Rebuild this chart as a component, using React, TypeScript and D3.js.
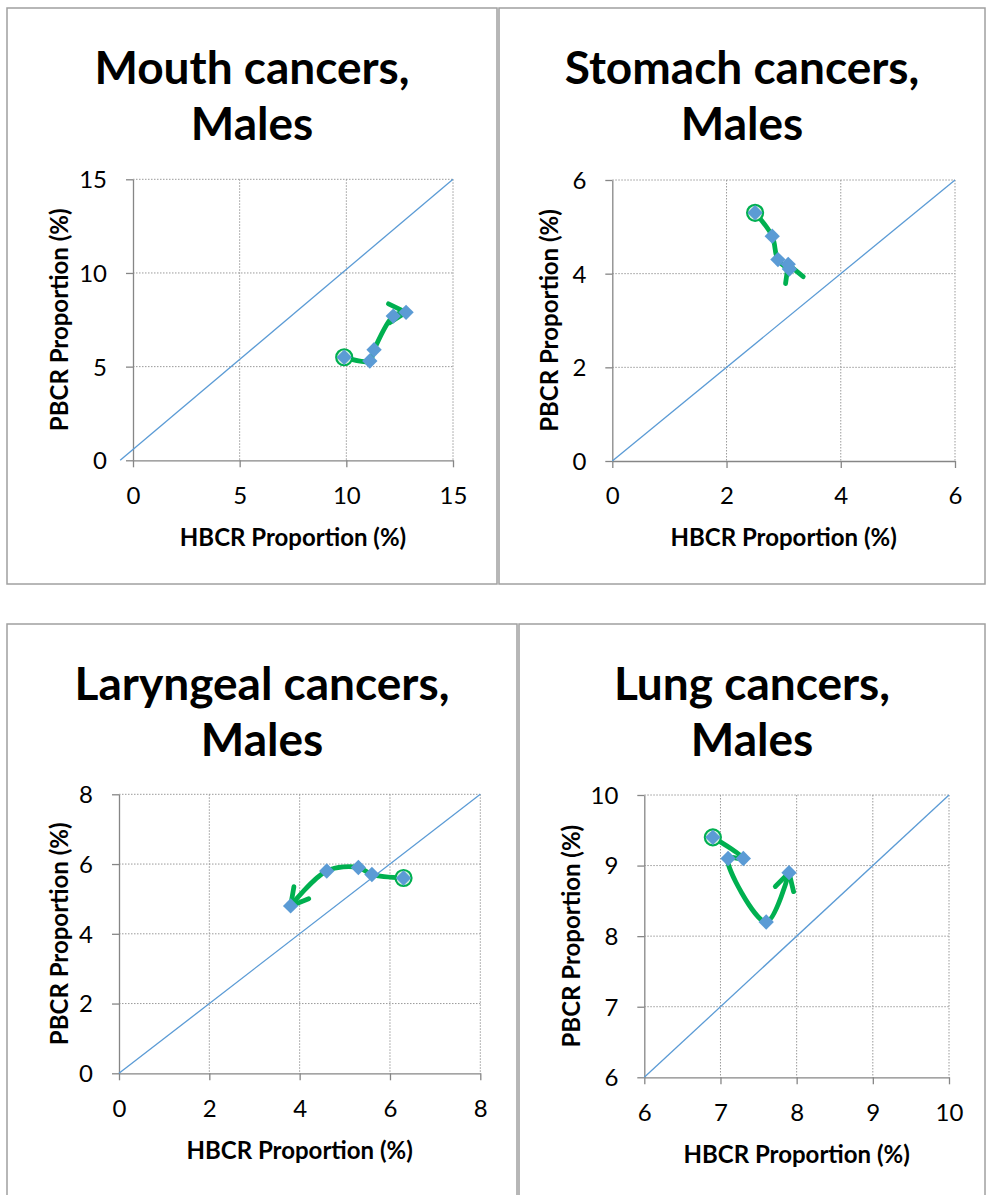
import React, { useEffect, useRef } from 'react';
import * as d3 from 'd3';

// Mouth cancers, Males
const mouthHbcr = [9.9, 11.1, 11.3, 12.2, 12.8];
const mouthPbcr = [5.5, 5.3, 5.9, 7.7, 7.9];
const mouthTicks = [0, 5, 10, 15];
const mouthDiagonal = [[-0.6, 0], [15, 15]];

// Stomach cancers, Males
const stomachHbcr = [2.5, 2.8, 2.9, 3.1, 3.08];
const stomachPbcr = [5.3, 4.8, 4.3, 4.1, 4.2];
const stomachTicks = [0, 2, 4, 6];
const stomachDiagonal = [[0, 0], [6, 6]];

// Laryngeal cancers, Males
const larynxHbcr = [6.3, 5.6, 5.3, 4.6, 3.8];
const larynxPbcr = [5.6, 5.7, 5.9, 5.8, 4.8];
const larynxTicks = [0, 2, 4, 6, 8];
const larynxDiagonal = [[0, 0], [8, 8]];

// Lung cancers, Males
const lungHbcr = [6.9, 7.3, 7.1, 7.6, 7.9];
const lungPbcr = [9.4, 9.1, 9.1, 8.2, 8.9];
const lungTicks = [6, 7, 8, 9, 10];
const lungDiagonal = [[6, 6], [10, 10]];

const xLabel = 'HBCR Proportion (%)';
const yLabel = 'PBCR Proportion (%)';

const panels = [
  { title: ['Mouth cancers,', 'Males'], hbcr: mouthHbcr, pbcr: mouthPbcr, ticks: mouthTicks, diagonal: mouthDiagonal,
    box: [7, 8, 490, 576], plot: [133, 453, 179.3, 460.3], titleY: 66, yTitleX: 60 },
  { title: ['Stomach cancers,', 'Males'], hbcr: stomachHbcr, pbcr: stomachPbcr, ticks: stomachTicks, diagonal: stomachDiagonal,
    box: [499, 8, 486, 576], plot: [612.3, 955, 180, 461], titleY: 66, yTitleX: 550 },
  { title: ['Laryngeal cancers,', 'Males'], hbcr: larynxHbcr, pbcr: larynxPbcr, ticks: larynxTicks, diagonal: larynxDiagonal,
    box: [7, 624, 510, 600], plot: [119, 480.3, 794.3, 1073.3], titleY: 682, yTitleX: 60 },
  { title: ['Lung cancers,', 'Males'], hbcr: lungHbcr, pbcr: lungPbcr, ticks: lungTicks, diagonal: lungDiagonal,
    box: [519, 624, 466, 600], plot: [644.3, 949, 795, 1077.3], titleY: 682, yTitleX: 572 },
];

const FONT = 'Lato, "Open Sans", sans-serif';
const GREEN = '#00B050';
const BLUE = '#5B9BD5';

const App = () => {
  const ref = useRef<SVGSVGElement>(null);

  useEffect(() => {
    const svg = d3.select(ref.current);
    svg.selectAll('*').remove();

    // flecha abierta al final de la serie
    svg
      .append('defs')
      .append('marker')
      .attr('id', 'arrow')
      .attr('markerUnits', 'userSpaceOnUse')
      .attr('viewBox', '-26 -16 32 32')
      .attr('markerWidth', 32)
      .attr('markerHeight', 32)
      .attr('refX', 0)
      .attr('refY', 0)
      .attr('orient', 'auto')
      .append('path')
      .attr('d', 'M-17,-9.5L0,0L-17,9.5')
      .attr('fill', 'none')
      .attr('stroke', GREEN)
      .attr('stroke-width', 4.8)
      .attr('stroke-linecap', 'round')
      .attr('stroke-linejoin', 'round');

    panels.forEach(p => {
      const [bx, by, bw, bh] = p.box;
      const [left, right, top, bottom] = p.plot;
      const lo = p.ticks[0];
      const hi = p.ticks[p.ticks.length - 1];
      const x = d3.scaleLinear().domain([lo, hi]).range([left, right]);
      const y = d3.scaleLinear().domain([lo, hi]).range([bottom, top]);
      const g = svg.append('g').style('font-family', FONT);

      // marco
      g.append('rect')
        .attr('x', bx)
        .attr('y', by)
        .attr('width', bw)
        .attr('height', bh)
        .attr('fill', 'none')
        .attr('stroke', '#a0a0a0')
        .attr('stroke-width', 1.5);

      // título
      g.append('text')
        .attr('x', bx + bw / 2)
        .attr('text-anchor', 'middle')
        .style('font-size', '46px')
        .style('font-weight', 'bold')
        .selectAll('tspan')
        .data(p.title)
        .enter()
        .append('tspan')
        .attr('x', bx + bw / 2)
        .attr('y', (d, i) => p.titleY + i * 56)
        .attr('dominant-baseline', 'central')
        .text(d => d);

      // rejilla
      g.selectAll('.vgrid')
        .data(p.ticks.slice(1))
        .enter()
        .append('line')
        .attr('x1', d => x(d))
        .attr('x2', d => x(d))
        .attr('y1', top)
        .attr('y2', bottom)
        .attr('stroke', '#9a9a9a')
        .attr('stroke-dasharray', '1.5,1.5');
      g.selectAll('.hgrid')
        .data(p.ticks.slice(1))
        .enter()
        .append('line')
        .attr('x1', left)
        .attr('x2', right)
        .attr('y1', d => y(d))
        .attr('y2', d => y(d))
        .attr('stroke', '#9a9a9a')
        .attr('stroke-dasharray', '1.5,1.5');

      // ejes
      const xAxis = g.append('g')
        .attr('transform', `translate(0,${bottom})`)
        .call(d3.axisBottom(x).tickValues(p.ticks).tickSize(7).tickSizeOuter(0).tickFormat(d3.format('d')));
      const yAxis = g.append('g')
        .attr('transform', `translate(${left},0)`)
        .call(d3.axisLeft(y).tickValues(p.ticks).tickSize(7).tickSizeOuter(0).tickFormat(d3.format('d')));
      [xAxis, yAxis].forEach(a => {
        a.select('.domain').attr('stroke', '#868686').attr('stroke-width', 1.3);
        a.selectAll('.tick line').attr('stroke', '#868686').attr('stroke-width', 1.3);
        a.selectAll('.tick text')
          .style('font-family', FONT)
          .style('font-size', '24px')
          .attr('fill', '#000');
      });
      xAxis.selectAll('.tick text').attr('y', 35).attr('dy', '0.35em');
      yAxis.selectAll('.tick text').attr('x', -26).attr('dy', '0.35em');

      // títulos de ejes
      g.append('text')
        .attr('x', (left + right) / 2)
        .attr('y', bottom + 77)
        .attr('dy', '0.35em')
        .attr('text-anchor', 'middle')
        .style('font-size', '24px')
        .style('font-weight', 'bold')
        .text(xLabel);
      g.append('text')
        .attr('transform', `translate(${p.yTitleX},${(top + bottom) / 2}) rotate(-90)`)
        .attr('dy', '0.35em')
        .attr('text-anchor', 'middle')
        .style('font-size', '24px')
        .style('font-weight', 'bold')
        .text(yLabel);

      // diagonal
      g.append('path')
        .datum(p.diagonal)
        .attr('d', d3.line().x(d => x(d[0])).y(d => y(d[1])))
        .attr('fill', 'none')
        .attr('stroke', BLUE)
        .attr('stroke-width', 1.3);

      const pts = p.hbcr.map((v, i) => [v, p.pbcr[i]]);

      // trayectoria suavizada
      g.append('path')
        .datum(pts)
        .attr('d', d3.line().curve(d3.curveCatmullRom.alpha(0.5)).x(d => x(d[0])).y(d => y(d[1])))
        .attr('fill', 'none')
        .attr('stroke', GREEN)
        .attr('stroke-width', 4.8)
        .attr('marker-end', 'url(#arrow)');

      // círculo de inicio
      g.append('circle')
        .attr('cx', x(pts[0][0]))
        .attr('cy', y(pts[0][1]))
        .attr('r', 8)
        .attr('fill', '#d9f2e3')
        .attr('stroke', GREEN)
        .attr('stroke-width', 2.2);

      // marcadores
      g.selectAll('.pt')
        .data(pts)
        .enter()
        .append('path')
        .attr('d', d3.symbol().type(d3.symbolDiamond2).size(150))
        .attr('transform', d => `translate(${x(d[0])},${y(d[1])})`)
        .attr('fill', BLUE);
    });
  }, []);

  return (
    <svg
      ref={ref}
      width={986}
      height={1195}
      style={{ position: 'absolute', left: 0, top: 0, background: '#fff' }}
    />
  );
};

export default App;
